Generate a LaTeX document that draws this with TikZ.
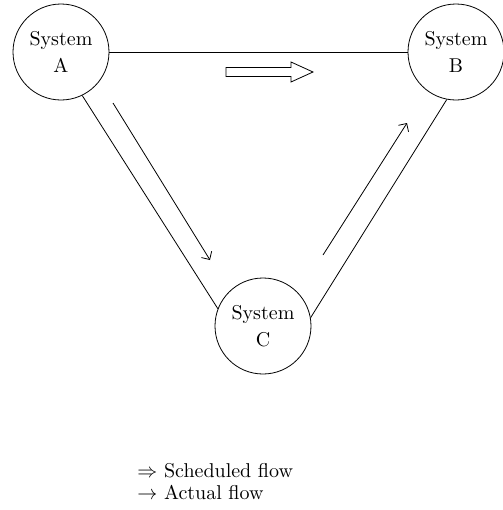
\documentclass[tikz,border=0pt]{standalone}
\usetikzlibrary{arrows.meta}
\tikzset{system/.style={draw, circle, minimum size=48pt, inner sep=0pt, align=center},
  flow/.style={-{Straight Barb[length=3pt,width=6pt]}}}
\begin{document}
\begin{tikzpicture}[x=0.5pt, y=-0.5pt]
\useasboundingbox (0,0) rectangle (503,510);

\node[system] (A) at (61,52) {System\\[1.5pt] A};
\node[system] (B) at (456,52) {System\\[1.5pt] B};
\node[system] (C) at (263,326) {System\\[1.5pt] C};

\draw (A.0) -- (B.180);
\draw (A.-64) -- (C.159);
\draw (B.-101) -- (C.10);

% scheduled flow A to B
\draw (226,67.5) -- (291,67.5) -- (291,62) -- (313,72) -- (291,82) -- (291,76.5) -- (226,76.5) -- cycle;

% actual flow
\coordinate (ac1) at (113,103); \coordinate (ac2) at (210,260);
\coordinate (cb1) at (323,255); \coordinate (cb2) at (407,123);
\draw[flow] (ac1) -- (ac2);
\draw[flow] (cb1) -- (cb2);

\node[anchor=base west, inner sep=0pt] (sched) at (137,477) {$\Rightarrow$ Scheduled flow};
\node[anchor=base west, inner sep=0pt] (act) at (137,499) {$\rightarrow$ Actual flow};
\end{tikzpicture}
\end{document}
